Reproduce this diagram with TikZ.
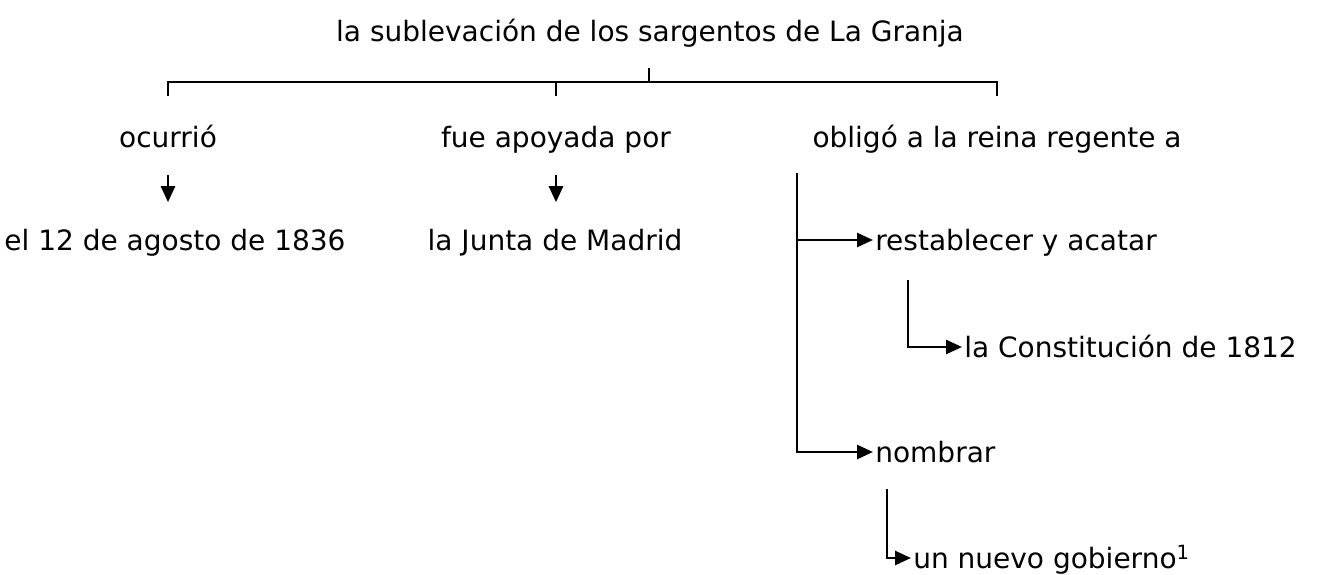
\documentclass[tikz,border=0pt]{standalone}
\usepackage{fontspec}
\setmainfont{DejaVu Sans}
\usetikzlibrary{arrows.meta,positioning}

\begin{document}
\begin{tikzpicture}[
    x=1pt, y=-1pt,
    line width=2.6pt,
    >={Triangle[length=16pt,width=14pt]},
    lbl/.style = {font=\fontsize{28}{33}\selectfont, inner sep=1pt,
                  text height=21pt, text depth=0pt},
    tip/.style = {lbl, anchor=west}
    ]
    \useasboundingbox (0,0) rectangle (1319,575);
    % Texts
    \node[lbl] (title) at (650,31.5) {la sublevación de los sargentos de La Granja};
    \node[lbl] (ocurrio) at (168,137) {ocurrió};
    \node[lbl] (apoyada) at (556,137) {fue apoyada por};
    \node[lbl] (obligo) at (997,137) {obligó a la reina regente a};
    \node[lbl] (fecha) at (175,240) {el 12 de agosto de 1836};
    \node[lbl] (junta) at (555,240) {la Junta de Madrid};
    \node[tip] (restab) at (873,240) {restablecer y acatar};
    \node[tip] (const) at (962,347) {la Constitución de 1812};
    \node[tip] (nombrar) at (873,452) {nombrar};
    \node[tip] (gobierno) at (911,558) {un nuevo gobierno\textsuperscript{1}};
    \coordinate (top) at (649,68);
    \coordinate (bar) at (649,82);
    \coordinate (trunk) at (797,173);
    \coordinate (sub1) at (908,280);
    \coordinate (sub2) at (887,489);
    % Bracket
    \draw (top) -- (bar);
    \draw[line cap=rect] (ocurrio.north |- bar) -- (obligo.north |- bar);
    \foreach \n in {ocurrio,apoyada,obligo}
      \draw[shorten >=28.5pt] (\n.north |- bar) -- (\n.north);
    % Down arrows
    \foreach \a/\b in {ocurrio/fecha, apoyada/junta}
      \draw[->, shorten <=25pt, shorten >=25pt] (\a.south) -- (\a.south |- \b.north);
    % Right branch
    \draw[->] (trunk) |- (nombrar.west);
    \draw[->] (trunk |- restab.west) -- (restab.west);
    \draw[->] (sub1) |- (const.west);
    \draw[->] (sub2) |- (gobierno.west);
\end{tikzpicture}
\end{document}
